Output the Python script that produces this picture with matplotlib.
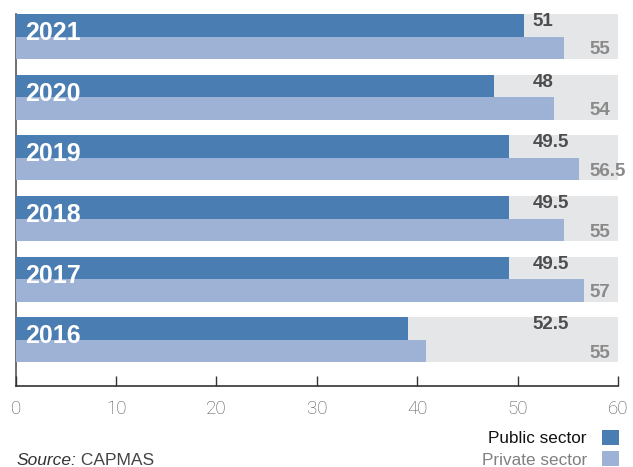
import matplotlib
matplotlib.use("Agg")
import matplotlib.pyplot as plt
from matplotlib.patches import Patch
import numpy as np

years = ['2021', '2020', '2019', '2018', '2017', '2016']
public_bar = [50.6, 47.6, 49.1, 49.1, 49.1, 39.1]
private_bar = [54.6, 53.6, 56.1, 54.6, 56.6, 40.9]
public_labels = ['51', '48', '49.5', '49.5', '49.5', '52.5']
private_labels = ['55', '54', '56.5', '55', '57', '55']
xticks = [0, 10, 20, 30, 40, 50, 60]

C_PUB = '#4a7db2'
C_PRI = '#9db2d5'
C_BG = '#e5e6e8'

plt.rcParams['font.family'] = ['Liberation Sans', 'DejaVu Sans']

fig = plt.figure(figsize=(6.33, 4.67), dpi=100)
ax = fig.add_axes([0.0248, 0.1734, 0.9515, 0.7966])

y = np.arange(len(years))
gh = 0.742
bh = gh / 2

ax.barh(y, [60] * len(years), height=gh, color=C_BG, zorder=1)
ax.barh(y - bh / 2, public_bar, height=bh, color=C_PUB, zorder=3)
ax.barh(y + bh / 2, private_bar, height=bh, color=C_PRI, zorder=3)

for i in range(len(years)):
    ax.text(0.9, i - 0.06, years[i], color='white', fontsize=18, fontweight='bold',
            ha='left', va='center', zorder=5)
    ax.text(51.5, i - 0.247, public_labels[i], color='#4d4d4d', fontsize=13.5,
            fontweight='bold', ha='left', va='center', zorder=5)
    ax.text(57.15, i + 0.222, private_labels[i], color='#8a8a8a', fontsize=13.5,
            fontweight='bold', ha='left', va='center', zorder=5, clip_on=False)

ax.set_xlim(0, 60)
ax.set_ylim(-bh + 6.13, -bh)
ax.set_yticks([])
ax.set_xticks(xticks)
ax.set_xticklabels([str(t) for t in xticks], fontsize=13.5, color='#555555',
                   fontfamily=['Roboto', 'DejaVu Sans'], fontweight='light')
ax.tick_params(axis='x', direction='in', length=7, width=1, color='#333333', pad=10)
for s in ['top', 'right']:
    ax.spines[s].set_visible(False)
ax.spines['left'].set_color('#555555')
ax.spines['bottom'].set_color('#333333')
ax.spines['left'].set_linewidth(1.2)
ax.spines['bottom'].set_linewidth(1.2)
ax.spines['left'].set_zorder(0.5)

handles = [Patch(facecolor=C_PUB), Patch(facecolor=C_PRI)]
leg = fig.legend(handles, ['Public sector', 'Private sector'], loc='lower right',
                 bbox_to_anchor=(0.988, -0.016), frameon=False, markerfirst=False,
                 prop={'size': 12.3},
                 handlelength=0.95, handleheight=0.95,
                 labelspacing=0.3, handletextpad=0.9, borderaxespad=0)
leg.get_texts()[0].set_color('#111111')
leg.get_texts()[1].set_color('#808080')

t = fig.text(0.026, 0.004, 'Source:', fontsize=12.5, style='italic', color='#333333',
             ha='left', va='baseline')
ax.annotate(' CAPMAS', xy=(1, 0), xycoords=t, fontsize=12.5, color='#444444',
            ha='left', va='bottom')

fig.savefig('out.png', dpi=100)
